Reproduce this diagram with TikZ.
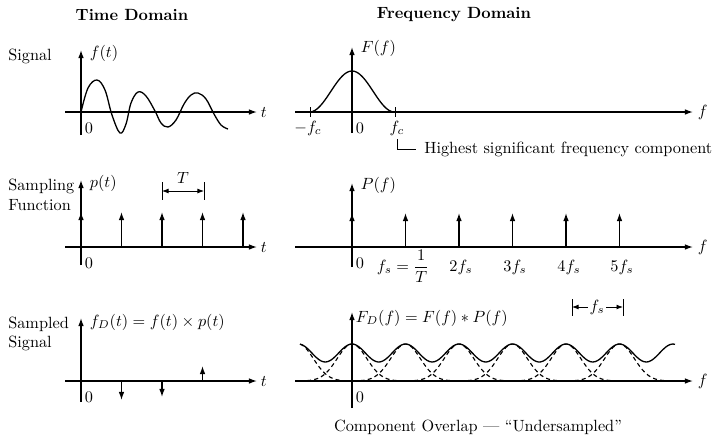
\documentclass[tikz,border=0pt]{standalone}
\usepackage{amsmath}
\usetikzlibrary{arrows.meta, positioning, calc}

\begin{document}
\begin{tikzpicture}[
		x=0.615pt, y=-0.615pt,
		axis/.style={-{Latex[length=5pt, width=3.5pt]}, line width=0.8pt},
		impulse/.style={-{Latex[length=5pt, width=3.5pt]}, line width=0.8pt},
		curve/.style={line width=0.8pt},
		overlap/.style={line width=0.7pt, dash pattern=on 2.5pt off 2pt},
		dim/.style={{Latex[length=4pt, width=3pt]}-{Latex[length=4pt, width=3pt]}, line width=0.5pt},
		bar/.style={line width=0.6pt},
		lbl/.style={inner sep=1pt},
		rowlbl/.style={inner sep=0pt, align=left, anchor=west},
		head/.style={font=\bfseries}
		]
		\useasboundingbox (0,0) rectangle (720,442);
		
		% Headings and row titles
		\node[head] (tdom) at (132,15) {Time Domain};
		\node[head] (fdom) at (454,15) {Frequency Domain};
		\node[rowlbl] (rsig) at (8,56) {Signal};
		\node[rowlbl] (rsmp) at (8,195) {Sampling\\Function};
		\node[rowlbl] (rsmd) at (8,334) {Sampled\\Signal};
		
		% Axes
		\foreach \yy/\tt/\bt/\ft/\fb [count=\r] in {112/50/135/47/133, 247/180/265/183/267, 381/318/402/312/408}{
			\coordinate (tw\r) at (65,\yy);  \coordinate (te\r) at (257,\yy);
			\coordinate (tb\r) at (81,\bt);  \coordinate (tt\r) at (81,\tt);
			\coordinate (fw\r) at (295,\yy); \coordinate (fe\r) at (693,\yy);
			\coordinate (fb\r) at (352,\fb); \coordinate (ft\r) at (352,\ft);
			\draw[axis] (tw\r) -- (te\r);
			\draw[axis] (tb\r) -- (tt\r);
			\draw[axis] (fw\r) -- (fe\r);
			\draw[axis] (fb\r) -- (ft\r);
			\node[lbl, anchor=west] at ($(te\r)+(2,0)$) {$t$};
			\node[lbl, anchor=west] at ($(fe\r)+(3,0)$) {$f$};
			\node[lbl, anchor=north west] at ($(81,\yy)+(2,9)$) {0};
			\node[lbl, anchor=north west] at ($(352,\yy)+(2,9)$) {0};
		}
		
		% Row 1: signal and its spectrum
		\node[lbl, anchor=west] (fofT) at (88,53) {$f(t)$};
		\draw[curve] plot[smooth, tension=0.6] coordinates {(81,112) (88,88) (97,80) (105,90) (112,115) (120,133) (126,124) (131,103) (138,92) (146,96) (155,111) (161,123) (168,127) (176,120) (184,104) (191,95) (198,93) (206,99) (214,114) (221,125) (228,129)};
		
		\node[lbl, anchor=west] (FofF) at (359,48) {$F(f)$};
		\draw[curve] plot[domain=-42.5:42.5, samples=50] ({352+\x}, {112-20.5*(1+cos(180*\x/42.5))});
		\draw[bar] (310,107) -- (310,117);
		\draw[bar] (395,107) -- (395,117);
		\node[lbl, anchor=north] (mfc) at (308,119) {$-f_c$};
		\node[lbl, anchor=north] (fc) at (397,119) {$f_c$};
		\node[inner sep=0pt, anchor=west] (hsf) at (424,149) {Highest significant frequency component};
		\coordinate (brk) at (397,139);
		\draw[bar] (brk) |- ([xshift=-5pt]hsf.west);
		
		% Row 2: sampling function
		\node[lbl, anchor=west] (pofT) at (88,183) {$p(t)$};
		\foreach \x in {81, 121.5, 162, 202.5, 243}
			\draw[impulse] (\x,247) -- (\x,212);
		\coordinate (tl) at (162,191); \coordinate (tr) at (204,191);
		\draw[bar] (162,182) -- (162,200);
		\draw[bar] (204,182) -- (204,200);
		\draw[dim] (tl) -- node[above=1pt] (per) {$T$} (tr);
		
		\node[lbl, anchor=west] (PofF) at (359,185) {$P(f)$};
		\foreach \x in {352, 405.5, 459, 512.5, 566, 619.5}
			\draw[impulse] (\x,247) -- (\x,213);
		\node[anchor=base] (fs1) at (403,271) {$f_s = \dfrac{1}{T}$};
		\foreach \k/\x in {2/461, 3/515, 4/569, 5/622}
			\node[anchor=base] (fs\k) at (\x,271) {$\k f_s$};
		
		% Row 3: sampled signal and overlapping spectrum
		\node[lbl, anchor=west] (fdofT) at (88,322) {$f_D(t) = f(t) \times p(t)$};
		\draw[impulse] (121.5,381) -- (121.5,400);
		\draw[impulse] (162,381) -- (162,397);
		\draw[impulse] (202.5,381) -- (202.5,366);
		
		\node[lbl, anchor=west] (FDofF) at (354,318) {$F_D(f) = F(f) * P(f)$};
		\draw[overlap] plot[domain=1.5:45, samples=30] ({298.5+\x}, {381-37*exp(-(\x/21)^2)});
		\foreach \c in {352, 405.5, 459, 512.5, 566, 619.5}
			\draw[overlap] plot[domain=-45:45, samples=50] ({\c+\x}, {381-37*exp(-(\x/21)^2)});
		\draw[curve] plot[domain=300:675, samples=160] (\x, {353-9*cos(6.729*(\x-352))});
		\node[lbl] (fsd) at (597,307) {$f_s$};
		\coordinate (fsl) at (572,307); \coordinate (fsr) at (623,307);
		\draw[bar] (572,299) -- (572,316);
		\draw[bar] (623,299) -- (623,316);
		\draw[-{Latex[length=4pt, width=3pt]}, line width=0.5pt] (fsd) -- (fsl);
		\draw[-{Latex[length=4pt, width=3pt]}, line width=0.5pt] (fsd) -- (fsr);
		\node (cap) at (478,427) {Component Overlap --- ``Undersampled''};
		
	\end{tikzpicture}
\end{document}
